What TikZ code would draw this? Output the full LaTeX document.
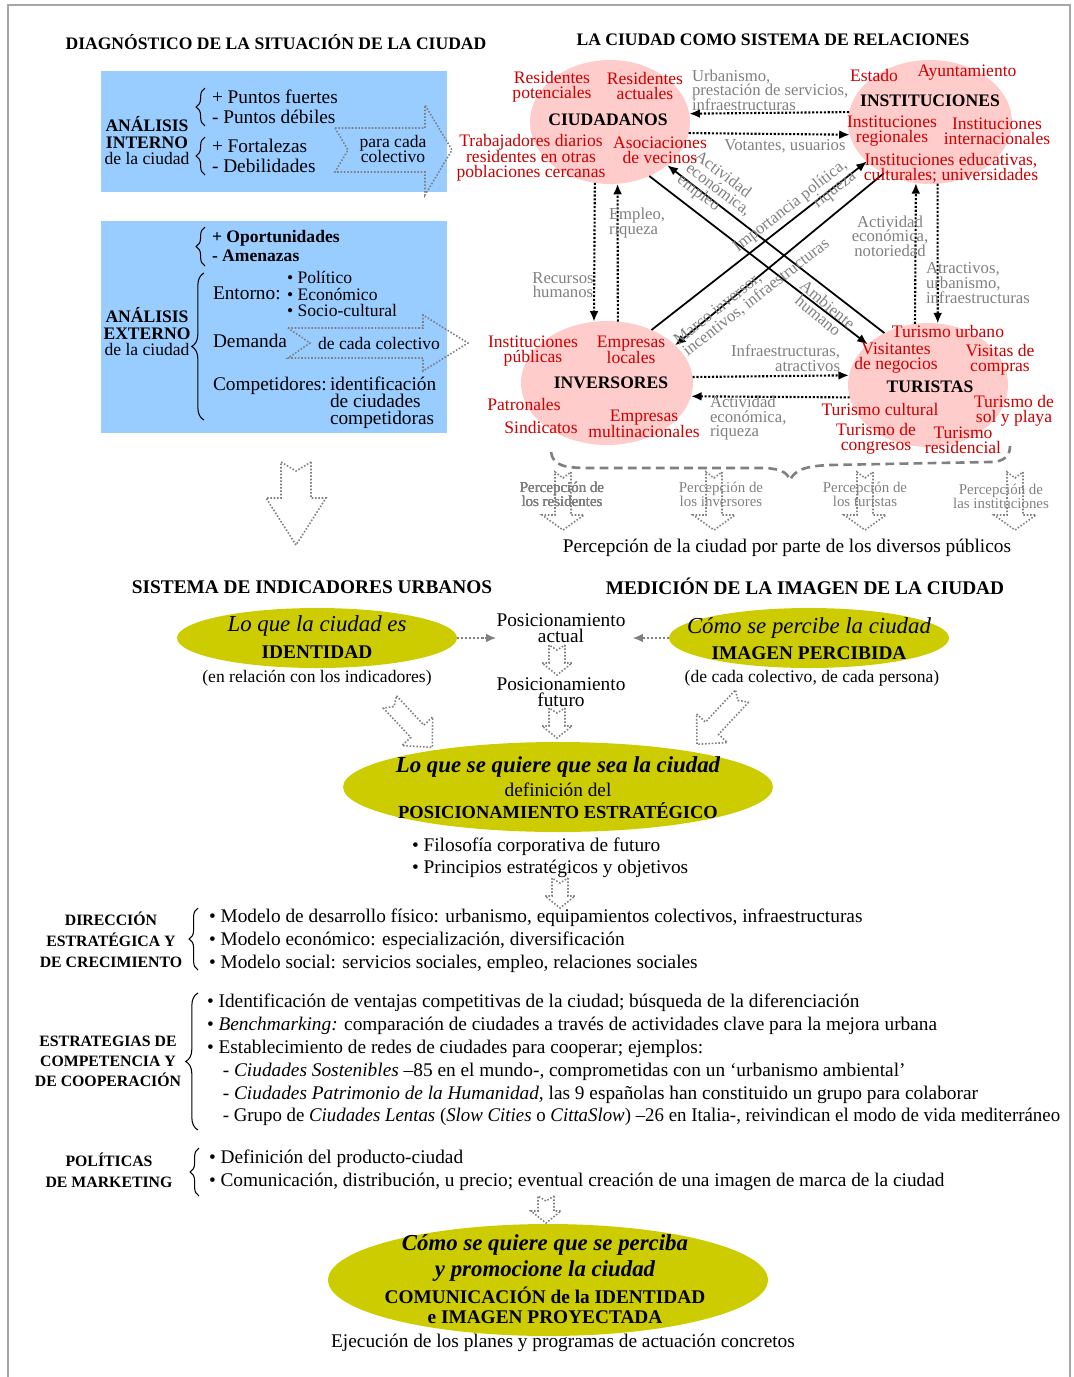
\documentclass[tikz,border=0pt]{standalone}
\usepackage{fontspec}
\setmainfont{Liberation Serif}
\usetikzlibrary{shapes.geometric,arrows.meta,decorations.pathreplacing}

\definecolor{boxblue}{RGB}{153,204,255}
\definecolor{rosa}{RGB}{255,204,204}
\definecolor{rojo}{RGB}{204,0,0}
\definecolor{gris}{RGB}{128,128,128}
\definecolor{oliva}{RGB}{204,204,0}

\newcommand{\fs}[2]{\fontsize{#1}{#2}\selectfont\lineskiplimit=-20pt\relax}
% hollow dotted arrow: x, y (tail), angle, length, shaft half, head half, head length, notch
\newcommand{\hollowarrow}[8]{%
  \draw[hollowarr,shift={(#1,#2)},rotate=#3]
    (0,-#5) -- ({#4-#7},-#5) -- ({#4-#7},-#6) -- (#4,0) -- ({#4-#7},#6)
    -- ({#4-#7},#5) -- (0,#5) -- (#8,0) -- cycle;}

\begin{document}
\begin{tikzpicture}[x=0.02cm,y=-0.02cm,
  every node/.style={inner sep=0pt, outer sep=0pt},
  titulo/.style={font=\bfseries\fs{10}{12}},
  subtit/.style={font=\bfseries\fs{11}{12}},
  redlbl/.style={text=rojo, align=center, font=\fs{10}{8.8}},
  graylbl/.style={text=gris, align=center, font=\fs{9.5}{8.3}},
  circ/.style={ellipse, fill=rosa, minimum height=2.48cm},
  circlbl/.style={font=\bfseries\fs{10}{12}},
  flecha/.style={densely dotted, line width=1.2pt, -{Latex[length=6pt,width=5pt]}},
  diag/.style={line width=1pt, -{Latex[length=6pt,width=5pt]}},
  grisarr/.style={gris, densely dotted, line width=1.3pt, -{Latex[length=6pt,width=5pt]}},
  oval/.style={ellipse, fill=oliva},
  hollowarr/.style={draw=gris, densely dotted, line width=0.9pt},
  llave/.style={decorate, decoration={brace, amplitude=5pt}, line width=0.6pt},
  cuerpo/.style={font=\fs{11}{12}}]
\useasboundingbox (0,0) rectangle (1074,1377);
\draw[gris!70, line width=1pt] (8,1377) -- (8,5) -- (1070,5) -- (1070,1377);

% titles
\node[titulo] (tdiag) at (276,42) {DIAGNÓSTICO DE LA SITUACIÓN DE LA CIUDAD};
\node[titulo] (tsis) at (773,40) {LA CIUDAD COMO SISTEMA DE RELACIONES};

% internal analysis
\fill[boxblue] (101,71) rectangle (447,192);
\hollowarrow{335}{150}{0}{117}{22}{45}{27}{13}
\node[align=center, font=\fs{10}{9.4}] (aint) at (147,141) {\textbf{ANÁLISIS}\\\textbf{INTERNO}\\de la ciudad};
\draw[llave] (205,126) -- (205,88);
\node[anchor=west, align=left, font=\fs{11}{11.3}] (pfd) at (212,107) {+ Puntos fuertes\\- Puntos débiles};
\draw[llave] (205,175) -- (205,137);
\node[anchor=west, align=left, font=\fs{11}{11.3}] (fde) at (212,156) {+ Fortalezas\\- Debilidades};
\node[align=center, font=\fs{10}{9}] (pcc) at (393,149) {para cada\\colectivo};

% external analysis
\fill[boxblue] (101,221) rectangle (447,433);
\hollowarrow{288}{343}{0}{180}{15}{28}{45}{22}
\draw[llave] (205,266) -- (205,227);
\node[anchor=west, align=left, font=\bfseries\fs{10}{11.3}] (opam) at (212,246) {+ Oportunidades\\- Amenazas};
\node[align=center, font=\fs{10}{9.4}] (aext) at (147,332) {\textbf{ANÁLISIS}\\\textbf{EXTERNO}\\de la ciudad};
\draw[llave, decoration={brace, amplitude=7pt}] (204,420) -- (204,273);
\node[anchor=west, cuerpo] (ento) at (213,293) {Entorno:};
\node[anchor=west, align=left, font=\fs{10}{9.6}] (pes) at (287,294) {• Político\\• Económico\\• Socio-cultural};
\node[anchor=west, cuerpo] (dem) at (213,341) {Demanda};
\node[font=\fs{10}{12}] (dcc) at (379,343) {de cada colectivo};
\node[anchor=west, cuerpo] (comp) at (213,386) {Competidores:};
\node[anchor=west, align=left, font=\fs{11}{9.6}] (ident) at (330,403) {identificación\\de ciudades\\competidoras};

\hollowarrow{296}{462}{-90}{83}{15}{30}{47}{9}

% city as a system of relations
\node[circ, minimum width=3.2cm] (ciud) at (610,122) {};
\node[circ, minimum width=3.28cm] (inst) at (930,122) {};
\node[circ, minimum width=3.44cm] (inv) at (607,383) {};
\node[circ, minimum width=3.2cm] (tur) at (928,385) {};
\node[circlbl] (ciudt) at (608,120) {CIUDADANOS};
\node[circlbl] (instt) at (930,101) {INSTITUCIONES};
\node[circlbl] (invt) at (611,383) {INVERSORES};
\node[circlbl] (turt) at (930,387) {TURISTAS};

\draw[flecha] (inst.173.6) -- (ciud.6.5);
\draw[flecha] (ciud.-8.7) -- (inst.-171.5);
\draw[flecha] (ciud.-104.8) -- (inv.102);
\draw[flecha] (inv.80.8) -- (ciud.-83.5);
\draw[flecha] (tur.102) -- (inst.-103.8);
\draw[flecha] (inst.-83.5) -- (tur.81.7);
\draw[flecha] (inv.4.7) -- (tur.173.5);
\draw[flecha] (tur.-171.3) -- (inv.-9.5);
\draw[diag] (ciud.-54.8) -- (tur.146.9);
\draw[diag] (tur.130.5) -- (ciud.-37.8);
\draw[diag] (inv.50.3) -- (inst.-148.5);
\draw[diag] (inst.-132.7) -- (inv.29);

\node[redlbl] (rpot) at (552,87) {Residentes\\potenciales};
\node[redlbl] (ract) at (645,86) {Residentes\\actuales};
\node[redlbl] (trab) at (531,158) {Trabajadores diarios\\residentes en otras\\poblaciones cercanas};
\node[redlbl] (asoc) at (660,150) {Asociaciones\\de vecinos};
\node[redlbl] (est) at (874,75) {Estado};
\node[redlbl] (ayto) at (967,73) {Ayuntamiento};
\node[redlbl] (ireg) at (892,131) {Instituciones\\regionales};
\node[redlbl] (iint) at (997,131) {Instituciones\\internacionales};
\node[redlbl] (iedu) at (951,168) {Instituciones educativas,\\culturales; universidades};
\node[redlbl] (ipub) at (533,351) {Instituciones\\públicas};
\node[redlbl] (eloc) at (631,350) {Empresas\\locales};
\node[redlbl] (patr) at (524,404) {Patronales};
\node[redlbl] (sind) at (541,427) {Sindicatos};
\node[redlbl] (emul) at (644,424) {Empresas\\multinacionales};
\node[redlbl] (turb) at (948,331) {Turismo urbano};
\node[redlbl] (vneg) at (896,358) {Visitantes\\de negocios};
\node[redlbl] (vcom) at (1000,360) {Visitas de\\compras};
\node[redlbl] (tcul) at (880,409) {Turismo cultural};
\node[redlbl] (tsol) at (1014,411) {Turismo de\\sol y playa};
\node[redlbl] (tcon) at (876,439) {Turismo de\\congresos};
\node[redlbl] (tres) at (963,440) {Turismo\\residencial};

\node[graylbl, anchor=west, align=left] (lurb) at (692,90) {Urbanismo,\\prestación de servicios,\\infraestructuras};
\node[graylbl] (lvot) at (785,146) {Votantes, usuarios};
\node[graylbl, anchor=west, align=left] (lemp) at (609,223) {Empleo,\\riqueza};
\node[graylbl] (lrec) at (563,285) {Recursos\\humanos};
\node[graylbl] (lact) at (890,236) {Actividad\\económica,\\notoriedad};
\node[graylbl, anchor=west, align=left] (latr) at (926,283) {Atractivos,\\urbanismo,\\infraestructuras};
\node[graylbl, anchor=east, align=right] (linf) at (840,358) {Infraestructuras,\\atractivos};
\node[graylbl, anchor=west, align=left] (lacr) at (710,418) {Actividad\\económica,\\riqueza};
\node[graylbl, align=left, rotate=-37] (lace) at (718,190) {Actividad\\económica,\\empleo};
\node[graylbl, align=right, rotate=38] (limp) at (795,212) {Importancia política,\\riqueza};
\node[graylbl, align=left, rotate=38] (lmar) at (752,292) {Marco inversor,\\incentivos, infraestructuras};
\node[graylbl, rotate=-40] (lamb) at (823,310) {Ambiente\\humano};

% perception by each public
\draw[gris, dash pattern=on 5pt off 3pt, line width=1.5pt] (551,452) .. controls (553,466) and (565,468) .. (590,468)
  -- (760,468) .. controls (780,468) and (787,472) .. (790,480)
  .. controls (795,470) and (805,466) .. (830,465) -- (990,462)
  .. controls (1005,462) and (1010,455) .. (1010,446);
\foreach \xa in {563,714,865,1015}
  \hollowarrow{\xa}{472}{-90}{58}{8}{21}{15}{6}
\node[graylbl, font=\fs{8.5}{8}] (pres) at (562,494) {Percepción de\\los residentes};
\node[graylbl, font=\fs{8.5}{8}] (pinv) at (721,494) {Percepción de\\los inversores};
\node[graylbl, font=\fs{8.5}{8}] (ptur) at (865,494) {Percepción de\\los turistas};
\node[graylbl, font=\fs{8.5}{8}] (pins) at (1001,496) {Percepción de\\las instituciones};
\node[font=\fs{11}{12}] (pciu) at (787,548) {Percepción de la ciudad por parte de los diversos públicos};

% identity and image
\node[subtit] (tind) at (312,587) {SISTEMA DE INDICADORES URBANOS};
\node[subtit] (tmed) at (805,586) {MEDICIÓN DE LA IMAGEN DE LA CIUDAD};
\node[oval, minimum width=5.6cm, minimum height=1.2cm] (idn) at (317,638) {};
\node[oval, minimum width=5.6cm, minimum height=1.2cm] (img) at (809,638) {};
\node[font=\itshape\fs{13}{14}] (idn1) at (317,626) {Lo que la ciudad es};
\node[font=\bfseries\fs{11}{12}] (idn2) at (317,652) {IDENTIDAD};
\node[font=\itshape\fs{13}{14}] (img1) at (809,628) {Cómo se percibe la ciudad};
\node[font=\bfseries\fs{11}{12}] (img2) at (809,653) {IMAGEN PERCIBIDA};
\node[font=\fs{10}{12}] (enrel) at (317,678) {(en relación con los indicadores)};
\node[font=\fs{10}{12}] (decada) at (812,678) {(de cada colectivo, de cada persona)};
\node[align=center, font=\fs{11}{9.2}] (posact) at (561,628) {Posicionamiento\\actual};
\node[align=center, font=\fs{11}{9.2}] (posfut) at (561,692) {Posicionamiento\\futuro};
\draw[grisarr] (idn.east) -- (idn.east -| posact.west);
\draw[grisarr] (img.west) -- ([xshift=4pt]img.west -| posact.east);
\hollowarrow{557}{645}{-90}{30}{8}{15}{12}{5}
\hollowarrow{557}{708}{-90}{30}{8}{15}{12}{5}
\hollowarrow{390}{702}{-47}{62}{9}{21}{22}{6}
\hollowarrow{742}{696}{-133}{66}{9}{21}{22}{6}

% strategic positioning
\node[oval, minimum width=8.6cm, minimum height=1.8cm] (qse) at (558,787) {};
\node[font=\bfseries\itshape\fs{13}{14}] (qse1) at (558,767) {Lo que se quiere que sea la ciudad};
\node[font=\fs{11}{12}] (qse2) at (558,790) {definición del};
\node[font=\bfseries\fs{10.5}{12}] (qse3) at (558,811) {POSICIONAMIENTO ESTRATÉGICO};
\node[anchor=west, align=left, font=\fs{11}{12.5}] (filo) at (412,858) {• Filosofía corporativa de futuro\\• Principios estratégicos y objetivos};
\hollowarrow{560}{878}{-90}{30}{8}{15}{12}{5}

% strategic lines
\node[align=center, font=\bfseries\fs{9}{11.9}] (dir) at (111,940) {DIRECCIÓN\\ESTRATÉGICA Y\\DE CRECIMIENTO};
\draw[llave] (198,970) -- (198,908);
\node[anchor=west, align=left, font=\fs{11}{13}] (dirl) at (209,941) {• Modelo de desarrollo físico: urbanismo, equipamientos colectivos, infraestructuras\\• Modelo económico: especialización, diversificación\\• Modelo social: servicios sociales, empleo, relaciones sociales};

\node[align=center, font=\bfseries\fs{9}{11.3}] (estr) at (108,1061) {ESTRATEGIAS DE\\COMPETENCIA Y\\DE COOPERACIÓN};
\draw[llave, decoration={brace, amplitude=7pt}] (198,1130) -- (198,993);
\node[anchor=west, align=left, font=\fs{11}{13}] (estl) at (207,1060) {• Identificación de ventajas competitivas de la ciudad; búsqueda de la diferenciación\\
  • \textit{Benchmarking:} comparación de ciudades a través de actividades clave para la mejora urbana\\
  • Establecimiento de redes de ciudades para cooperar; ejemplos:\\
  \hspace*{9pt}- \textit{Ciudades Sostenibles} –85 en el mundo-, comprometidas con un ‘urbanismo ambiental’\\
  \hspace*{9pt}- \textit{Ciudades Patrimonio de la Humanidad,} las 9 españolas han constituido un grupo para colaborar\\
  \hspace*{9pt}\scalebox{0.975}[1]{- Grupo de \textit{Ciudades Lentas} (\textit{Slow Cities} o \textit{CittaSlow}) –26 en Italia-, reivindican el modo de vida mediterráneo}};

\node[align=center, font=\bfseries\fs{9}{11.9}] (pol) at (109,1170) {POLÍTICAS\\DE MARKETING};
\draw[llave] (199,1196) -- (199,1148);
\node[anchor=west, align=left, font=\fs{11}{13}] (poll) at (209,1170) {• Definición del producto-ciudad\\• Comunicación, distribución, u precio; eventual creación de una imagen de marca de la ciudad};
\hollowarrow{546}{1196}{-90}{27}{8}{15}{12}{5}

% projected image
\node[oval, minimum width=8.8cm, minimum height=2.24cm] (cqp) at (548,1280) {};
\node[font=\bfseries\itshape\fs{13}{14}] (cqp1) at (545,1245) {Cómo se quiere que se perciba};
\node[font=\bfseries\itshape\fs{13}{14}] (cqp2) at (545,1271) {y promocione la ciudad};
\node[font=\bfseries\fs{11}{12}] (cqp3) at (545,1295) {COMUNICACIÓN de la IDENTIDAD};
\node[font=\bfseries\fs{11}{12}] (cqp4) at (545,1317) {e IMAGEN PROYECTADA};
\node[font=\fs{11}{12}] (ejec) at (563,1343) {Ejecución de los planes y programas de actuación concretos};
\end{tikzpicture}
\end{document}
